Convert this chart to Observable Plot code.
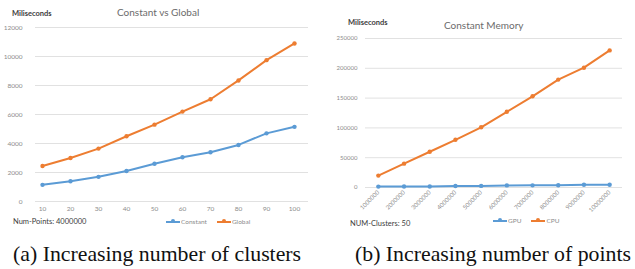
<!DOCTYPE html>
<html>
<head>
<meta charset="utf-8">
<script src="https://cdn.jsdelivr.net/npm/d3@7"></script>
<script src="https://cdn.jsdelivr.net/npm/@observablehq/plot@0.6"></script>
<style>
  html, body { margin: 0; padding: 0; background: #fff; }
  #root { position: relative; width: 635px; height: 269px; overflow: hidden; font-family: Lato, "Open Sans", sans-serif; }
  .abs { position: absolute; white-space: nowrap; }
  .ylab { font-size: 7.5px; font-weight: bold; color: #404040; }
  .title { font-size: 10px; color: #6b6b6b; }
  .note { font-size: 7.5px; color: #404040; }
  .leg { font-size: 6.5px; color: #8c8c8c; display: flex; align-items: center; }
  .sw { position: relative; width: 14px; height: 2px; margin-right: 1px; }
  .sw i { position: absolute; left: 5px; top: -1.5px; width: 4px; height: 4px; border-radius: 50%; }
  .cap { font-family: "Liberation Serif", "Times New Roman", serif; font-size: 21.8px; color: #111; line-height: 1; }
</style>
</head>
<body>
<div id="root"></div>
<script>
// Panel (a): Constant vs Global, Num-Points 4000000
const clusters = [10, 20, 30, 40, 50, 60, 70, 80, 90, 100];
const constantMs = [1150, 1400, 1700, 2100, 2600, 3050, 3400, 3900, 4700, 5150];
const globalMs   = [2450, 3000, 3650, 4500, 5300, 6200, 7050, 8350, 9750, 10900];
const yTicksA = [0, 2000, 4000, 6000, 8000, 10000, 12000];

// Panel (b): Constant Memory, NUM-Clusters 50
const points = [1000000, 2000000, 3000000, 4000000, 5000000, 6000000, 7000000, 8000000, 9000000, 10000000];
const gpuMs = [1500, 1600, 1700, 2500, 2700, 3500, 3600, 3700, 4500, 4700];
const cpuMs = [20000, 40000, 60000, 80000, 101000, 127000, 153000, 181000, 201000, 230000];
const yTicksB = [0, 50000, 100000, 150000, 200000, 250000];

const BLUE = "#5b9bd5", ORANGE = "#ed7d31", GRID = "#d9d9d9", TICK = "#8c8c8c";

const root = document.getElementById("root");

function rows(xs, ys, name) { return xs.map((x, i) => ({x, y: ys[i], s: name})); }

const dataA = [...rows(clusters, constantMs, "Constant"), ...rows(clusters, globalMs, "Global")];
const dataB = [...rows(points, gpuMs, "GPU"), ...rows(points, cpuMs, "CPU")];

const plotA = Plot.plot({
  width: 315, height: 215,
  marginLeft: 35, marginRight: 7, marginTop: 27, marginBottom: 14,
  style: {fontFamily: "Lato, sans-serif", fontSize: "6.5px", color: TICK, background: "transparent"},
  x: {domain: [7.5, 105], ticks: clusters, tickFormat: d => String(d)},
  y: {domain: [0, 12000], ticks: yTicksA, tickFormat: d => String(d)},
  color: {domain: ["Constant", "Global"], range: [BLUE, ORANGE]},
  marks: [
    Plot.ruleY(yTicksA, {stroke: GRID, strokeWidth: 0.8}),
    Plot.axisX({ticks: clusters, tickSize: 0, tickPadding: 5, label: null, fill: TICK, tickFormat: d => String(d)}),
    Plot.axisY({ticks: yTicksA, tickSize: 0, tickPadding: 13, label: null, fill: TICK, tickFormat: d => String(d)}),
    Plot.line(dataA, {x: "x", y: "y", stroke: "s", strokeWidth: 2}),
    Plot.dot(dataA, {x: "x", y: "y", fill: "s", r: 2.2})
  ]
});
plotA.style.position = "absolute"; plotA.style.left = "0px"; plotA.style.top = "0px";
root.appendChild(plotA);

const plotB = Plot.plot({
  width: 315, height: 215,
  marginLeft: 45, marginRight: 13, marginTop: 38, marginBottom: 28,
  style: {fontFamily: "Lato, sans-serif", fontSize: "6px", color: TICK, background: "transparent"},
  x: {domain: [500000, 10500000], ticks: points, tickFormat: d => String(d)},
  y: {domain: [0, 250000], ticks: yTicksB, tickFormat: d => String(d)},
  color: {domain: ["GPU", "CPU"], range: [BLUE, ORANGE]},
  marks: [
    Plot.ruleY(yTicksB, {stroke: GRID, strokeWidth: 0.8}),
    Plot.axisX({ticks: points, tickSize: 0, tickPadding: 4, tickRotate: -45, label: null, fill: TICK, tickFormat: d => String(d)}),
    Plot.axisY({ticks: yTicksB, tickSize: 0, tickPadding: 8, label: null, fill: TICK, tickFormat: d => String(d)}),
    Plot.line(dataB, {x: "x", y: "y", stroke: "s", strokeWidth: 2}),
    Plot.dot(dataB, {x: "x", y: "y", fill: "s", r: 2.2})
  ]
});
plotB.style.position = "absolute"; plotB.style.left = "320px"; plotB.style.top = "0px";
root.appendChild(plotB);

function addText(cls, text, left, top, extra) {
  const d = document.createElement("div");
  d.className = "abs " + cls;
  d.textContent = text;
  d.style.left = left + "px"; d.style.top = top + "px";
  if (extra) Object.assign(d.style, extra);
  root.appendChild(d);
  return d;
}
function addLegend(items, left, top) {
  const d = document.createElement("div");
  d.className = "abs leg";
  d.style.left = left + "px"; d.style.top = top + "px";
  items.forEach(([name, col], i) => {
    const sw = document.createElement("span");
    sw.className = "sw"; sw.style.background = col;
    const dot = document.createElement("i"); dot.style.background = col; sw.appendChild(dot);
    const t = document.createElement("span"); t.textContent = name;
    if (i > 0) sw.style.marginLeft = "10px";
    d.appendChild(sw); d.appendChild(t);
  });
  root.appendChild(d);
}

addText("ylab", "Miliseconds", 12, 9);
addText("title", "Constant vs Global", 117, 6);
addText("note", "Num-Points: 4000000", 13, 217);
addLegend([["Constant", BLUE], ["Global", ORANGE]], 166, 218);

addText("ylab", "Miliseconds", 348, 18);
addText("title", "Constant Memory", 444, 19);
addText("note", "NUM-Clusters: 50", 350, 219);
addLegend([["GPU", BLUE], ["CPU", ORANGE]], 493, 217);

addText("cap", "(a) Increasing number of clusters", 13, 244);
addText("cap", "(b) Increasing number of points", 355, 244);
</script>
</body>
</html>
